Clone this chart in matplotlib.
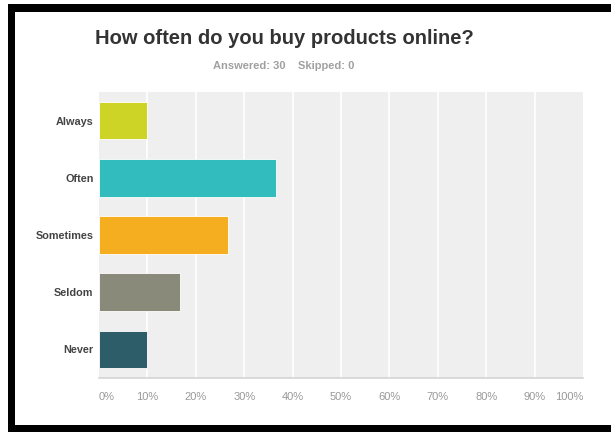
import matplotlib
matplotlib.use("Agg")
import matplotlib.pyplot as plt
from matplotlib.patches import Rectangle

categories = ["Always", "Often", "Sometimes", "Seldom", "Never"]
percentages = [10.0, 36.67, 26.67, 16.67, 10.0]
colors = ["#cdd425", "#33bcbd", "#f5ae20", "#898a79", "#2c5d69"]
xtick_values = [0, 10, 20, 30, 40, 50, 60, 70, 80, 90, 100]
xtick_labels = [f"{v}%" for v in xtick_values]
title = "How often do you buy products online?"
subtitle = "Answered: 30    Skipped: 0"

W, H = 611, 432
fig = plt.figure(figsize=(W / 100, H / 100), dpi=100)
fig.patch.set_facecolor("white")

# plot area in pixels
left, right, top, bottom = 99, 583, 92, 378
ax = fig.add_axes([left / W, 1 - bottom / H, (right - left) / W, (bottom - top) / H])
ax.set_facecolor("#efefef")

ypos = list(range(len(categories)))
ax.barh(ypos, percentages, height=0.66, color=colors, edgecolor="#ffffff",
        linewidth=0.6, zorder=3)
ax.set_ylim(len(categories) - 0.5, -0.5)
ax.set_xlim(0, 100)

for v in xtick_values[1:-1]:
    ax.axvline(v, color="white", linewidth=1.2, zorder=1)

for s in ["top", "right", "left"]:
    ax.spines[s].set_visible(False)
ax.spines["bottom"].set_color("#d4d4d4")
ax.spines["bottom"].set_linewidth(1.2)

ax.set_yticks(ypos)
ax.set_yticklabels(categories, fontsize=7.8, fontweight="bold", color="#444444",
                   family="Liberation Sans")
ax.tick_params(axis="y", length=0, pad=4)

ax.set_xticks(xtick_values)
ax.set_xticklabels(xtick_labels, fontsize=8, color="#999999", family="Liberation Sans")
ax.tick_params(axis="x", length=0, pad=10)
labs = ax.get_xticklabels()
labs[0].set_horizontalalignment("left")
labs[-1].set_horizontalalignment("right")

fig.text(95 / W, 1 - 38 / H, title, fontsize=14.5, fontweight="bold", color="#333333",
         family="Liberation Sans", ha="left", va="center")
fig.text(284 / W, 1 - 66 / H, subtitle, fontsize=8, fontweight="bold", color="#a0a0a0",
         family="Liberation Sans", ha="center", va="center")

# black frame
black = "#000000"
fig.patches.append(Rectangle((8 / W, 1 - 12 / H), 1, 8 / H, transform=fig.transFigure,
                             facecolor=black, edgecolor="none"))
fig.patches.append(Rectangle((8 / W, 0), 7 / W, 1 - 4 / H, transform=fig.transFigure,
                             facecolor=black, edgecolor="none"))
fig.patches.append(Rectangle((8 / W, 0), 1, 7 / H, transform=fig.transFigure,
                             facecolor=black, edgecolor="none"))

fig.savefig("out.png", dpi=100)
